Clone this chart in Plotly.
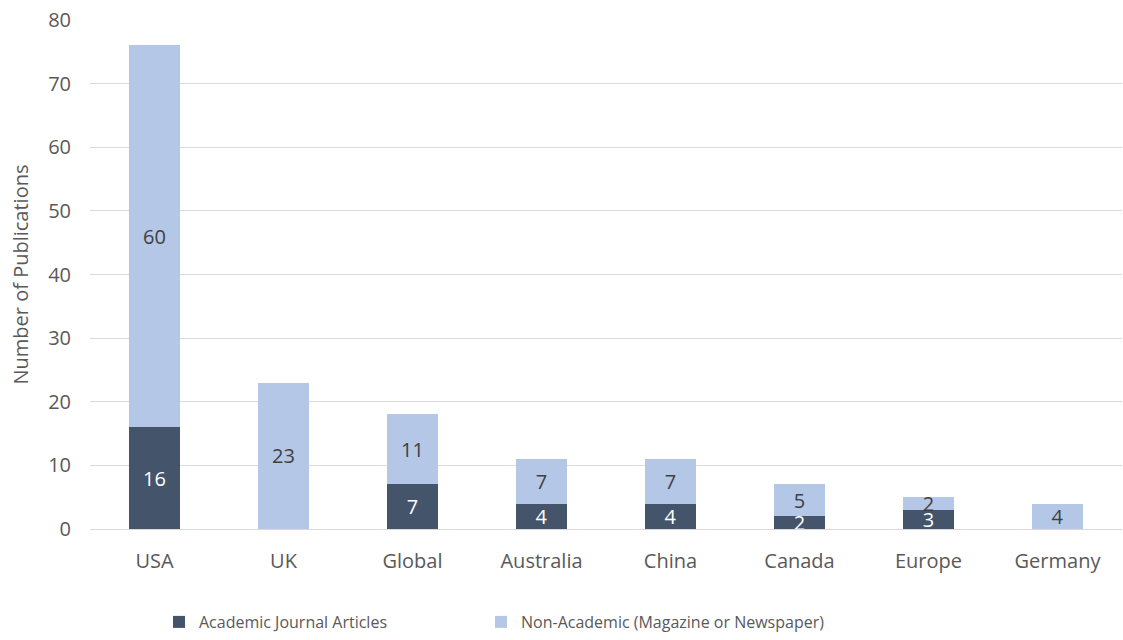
import plotly.graph_objects as go

categories = ["USA", "UK", "Global", "Australia", "China", "Canada", "Europe", "Germany"]
academic = [16, 0, 7, 4, 4, 2, 3, 0]
non_academic = [60, 23, 11, 7, 7, 5, 2, 4]
series_names = ["Academic Journal Articles", "Non-Academic (Magazine or Newspaper)"]
y_ticks = [0, 10, 20, 30, 40, 50, 60, 70, 80]

FONT = "Open Sans"
DARK = "#44546A"
LIGHT = "#B4C7E7"
W, H = 1123, 640

def labels(vals):
    return [str(v) if v else "" for v in vals]

fig = go.Figure()
fig.add_trace(go.Bar(
    x=categories, y=academic, name=series_names[0], legend="legend",
    marker=dict(color=DARK, line=dict(width=0)),
    text=labels(academic), textposition="inside", insidetextanchor="middle",
    textangle=0, constraintext="none",
    textfont=dict(family=FONT, size=20, color="white"),
    hoverinfo="x+y+name",
))
fig.add_trace(go.Bar(
    x=categories, y=non_academic, name=series_names[1], legend="legend2",
    marker=dict(color=LIGHT, line=dict(width=0)),
    text=labels(non_academic), textposition="inside", insidetextanchor="middle",
    textangle=0, constraintext="none",
    textfont=dict(family=FONT, size=20, color="#404040"),
    hoverinfo="x+y+name",
))

legend_common = dict(
    orientation="h", xref="container", yref="container",
    xanchor="left", y=1 - 622 / H, yanchor="middle",
    font=dict(family=FONT, size=16, color="#595959"),
    itemwidth=30,
)

fig.update_layout(
    barmode="stack",
    bargap=0.6,
    width=W, height=H,
    margin=dict(l=90, r=1, t=20, b=111, autoexpand=False),
    paper_bgcolor="white", plot_bgcolor="white",
    font=dict(family=FONT, color="#595959"),
    uniformtext=dict(minsize=20, mode="show"),
    showlegend=True,
    legend=dict(x=159 / W, **legend_common),
    legend2=dict(x=481 / W, **legend_common),
    xaxis=dict(
        showgrid=False, showline=False, ticks="", automargin=False,
        ticklabelstandoff=18,
        tickfont=dict(family=FONT, size=20, color="#595959"),
    ),
    yaxis=dict(
        range=[0, 80], tickvals=y_ticks, showgrid=True, gridcolor="#D9D9D9", gridwidth=1,
        zeroline=True, zerolinecolor="#D9D9D9", zerolinewidth=1,
        showline=False, ticks="", automargin=False, ticklabelstandoff=18,
        ticklabeloverflow="allow",
        tickfont=dict(family=FONT, size=20, color="#595959"),
        title=dict(text="Number of Publications", font=dict(family=FONT, size=20, color="#595959"), standoff=14),
    ),
)

fig.write_html("out.html", config={"displayModeBar": False},
               post_script="document.body.style.margin='0';")
